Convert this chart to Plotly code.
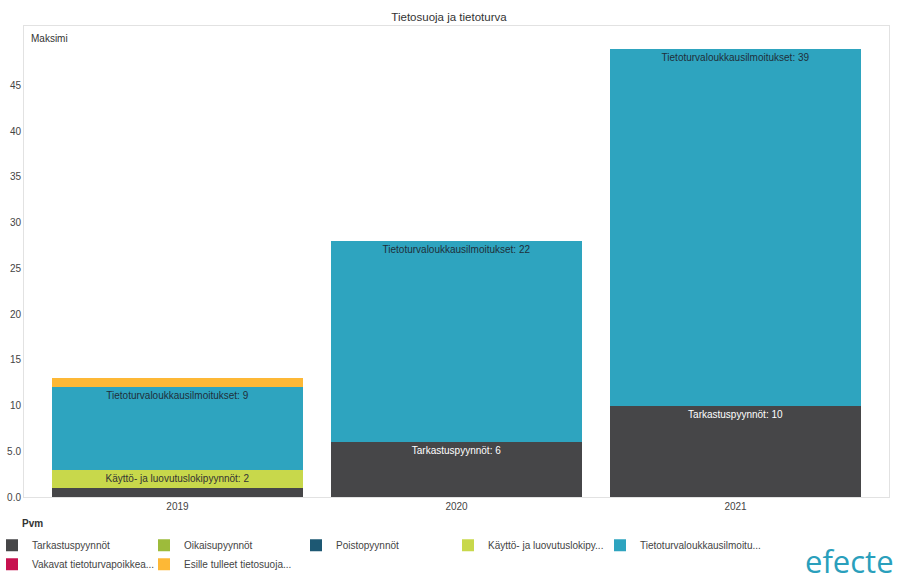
import plotly.graph_objects as go

years = ["2019", "2020", "2021"]

series_names = [
    "Tarkastuspyynnöt",
    "Oikaisupyynnöt",
    "Poistopyynnöt",
    "Käyttö- ja luovutuslokipyynnöt",
    "Tietoturvaloukkausilmoitukset",
    "Vakavat tietoturvapoikkeamat",
    "Esille tulleet tietosuojapoikkeamat",
]
legend_labels = [
    "Tarkastuspyynnöt",
    "Oikaisupyynnöt",
    "Poistopyynnöt",
    "Käyttö- ja luovutuslokipy...",
    "Tietoturvaloukkausilmoitu...",
    "Vakavat tietoturvapoikkea...",
    "Esille tulleet tietosuoja...",
]
tarkastus = [1, 6, 10]
oikaisu = [0, 0, 0]
poisto = [0, 0, 0]
kaytto = [2, 0, 0]
tietoturva = [9, 22, 39]
vakavat = [0, 0, 0]
esille = [1, 0, 0]

series_values = [tarkastus, oikaisu, poisto, kaytto, tietoturva, vakavat, esille]
series_colors = ["#464648", "#9DBB3B", "#1D5873", "#C8D84B", "#2EA4BF", "#C7114F", "#FDB836"]
label_colors = ["#ffffff", "#333333", "#ffffff", "#333333", "#1f2f3a", "#ffffff", "#333333"]
# legend grid: five columns, filled row by row
legend_ids = ["legend", "legend2", "legend3", "legend4", "legend5", "legend", "legend2"]
min_label_value = 2

y_ticks = [0, 5, 10, 15, 20, 25, 30, 35, 40, 45]
y_tick_labels = ["0.0", "5.0", "10", "15", "20", "25", "30", "35", "40", "45"]

fig = go.Figure()
for name, legend_name, vals, color, tcolor, lid in zip(
    series_names, legend_labels, series_values, series_colors, label_colors, legend_ids
):
    texts = [f"{name}: {v}" if v >= min_label_value else "" for v in vals]
    fig.add_trace(
        go.Bar(
            x=years,
            y=vals,
            name=legend_name,
            legend=lid,
            marker=dict(color=color, line=dict(width=0)),
            text=texts,
            textposition="inside",
            insidetextanchor="end",
            textangle=0,
            textfont=dict(color=tcolor, size=10, family="Liberation Sans, Arial, sans-serif"),
            width=0.9,
            hoverinfo="x+y+name",
        )
    )

# plot area spans 24..889 px horizontally; legend columns every 152 px
plot_left, plot_width = 24, 865
legend_layouts = {}
for i, lid in enumerate(["legend", "legend2", "legend3", "legend4", "legend5"]):
    left_px = 5 + 152 * i - 13
    legend_layouts[lid] = dict(
        orientation="v",
        xref="paper",
        yref="paper",
        x=(left_px - plot_left) / plot_width,
        xanchor="left",
        y=-0.0716,
        yanchor="top",
        itemwidth=30,
        traceorder="normal",
        font=dict(size=10, color="#444444"),
        bgcolor="rgba(0,0,0,0)",
    )

fig.update_layout(
    barmode="stack",
    width=898,
    height=583,
    paper_bgcolor="white",
    plot_bgcolor="white",
    margin=dict(l=24, r=9, t=26, b=86, autoexpand=False),
    font=dict(family="Liberation Sans, Arial, sans-serif", size=10, color="#333333"),
    title=dict(
        text="Tietosuoja ja tietoturva",
        x=0.5,
        xanchor="center",
        y=1 - 17 / 583,
        yanchor="middle",
        font=dict(size=11.5, color="#333333"),
    ),
    uniformtext=dict(minsize=10, mode="show"),
    showlegend=True,
    **legend_layouts,
    xaxis=dict(
        type="category",
        range=[-0.55, 2.55],
        showgrid=False,
        showline=True,
        linecolor="#e2e2e2",
        mirror=True,
        ticks="",
        tickfont=dict(size=10, color="#444444"),
        fixedrange=True,
    ),
    yaxis=dict(
        range=[0, 51.5],
        tickvals=y_ticks,
        ticktext=y_tick_labels,
        showgrid=False,
        zeroline=False,
        showline=True,
        linecolor="#e2e2e2",
        mirror=True,
        ticks="",
        tickfont=dict(size=10, color="#444444"),
        fixedrange=True,
    ),
    annotations=[
        dict(
            text="Maksimi",
            xref="paper",
            yref="paper",
            x=0.006,
            y=0.99,
            xanchor="left",
            yanchor="top",
            showarrow=False,
            font=dict(size=10, color="#333333"),
        ),
        dict(
            text="<b>Pvm</b>",
            xref="paper",
            yref="paper",
            x=-0.0046,
            y=-0.057,
            xanchor="left",
            yanchor="middle",
            showarrow=False,
            font=dict(size=10, color="#333333"),
        ),
        dict(
            text="efecte",
            xref="paper",
            yref="paper",
            x=1.008,
            y=-0.136,
            xanchor="right",
            yanchor="middle",
            showarrow=False,
            font=dict(size=31, color="#2A9FBC", family="Open Sans, Liberation Sans, sans-serif"),
        ),
    ],
)

fig.write_html("out.html")
